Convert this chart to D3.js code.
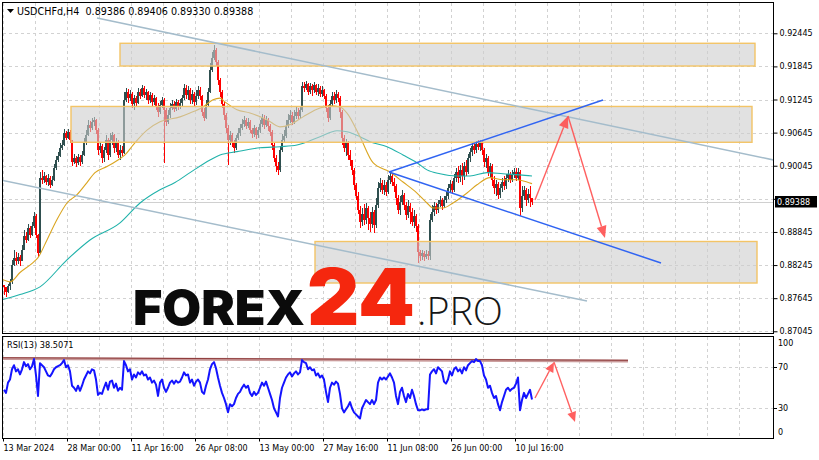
<!DOCTYPE html>
<html><head><meta charset="utf-8">
<script src="https://cdn.jsdelivr.net/npm/d3@7/dist/d3.min.js"></script>
<style>body{margin:0;background:#fff}svg{display:block}</style>
</head><body><svg id="c" width="819" height="460"></svg>
<script>
// ---------- data ----------
const symbolTitle = "USDCHFd,H4  0.89386 0.89406 0.89330 0.89388";
const rsiTitle = "RSI(13) 38.5071";
const timeLabels = ["13 Mar 2024","28 Mar 00:00","11 Apr 16:00","26 Apr 08:00","13 May 00:00","27 May 16:00","11 Jun 08:00","26 Jun 00:00","10 Jul 16:00"];
const timeLabelBars = [0,64,128,192,256,320,384,448,512];
const priceTicks = [0.92445,0.91845,0.91245,0.90645,0.90045,0.89445,0.88845,0.88245,0.87645,0.87045];
const rsiTicks = [100,70,30,0];
const barsPerCandle = 2;
const openFirst = 0.8789;
const closes = [
.8784,.8776,.8787,.8793,.8825,.8838,.8831,.8840,.8831,.8852,
.8878,.8870,.8892,.8879,.8896,.8914,.8879,.8847,.8983,.8979,
.8986,.8975,.8983,.8970,.8979,.9001,.9015,.9022,.9037,.9042,
.9064,.9055,.9066,.9051,.9012,.9019,.9010,.9021,.9012,.9024,
.9046,.9060,.9079,.9073,.9084,.9088,.9069,.9033,.9041,.9019,
.9033,.9051,.9024,.9051,.9060,.9037,.9048,.9024,.9033,.9028,
.9124,.9138,.9127,.9135,.9117,.9127,.9118,.9138,.9131,.9146,
.9133,.9138,.9124,.9133,.9120,.9127,.9113,.9102,.9115,.9124,
.9106,.9084,.9097,.9109,.9117,.9107,.9120,.9111,.9118,.9127,
.9146,.9133,.9142,.9124,.9135,.9120,.9131,.9142,.9131,.9102,
.9091,.9115,.9138,.9178,.9200,.9214,.9192,.9160,.9138,.9117,
.9097,.9073,.9051,.9060,.9048,.9037,.9055,.9064,.9073,.9080,
.9088,.9077,.9084,.9069,.9062,.9073,.9060,.9069,.9080,.9091,
.9079,.9088,.9077,.9066,.9042,.9019,.9004,.8997,.9033,.9051,
.9059,.9077,.9088,.9097,.9084,.9095,.9102,.9095,.9106,.9149,
.9146,.9153,.9138,.9149,.9142,.9151,.9138,.9146,.9135,.9142,
.9131,.9109,.9091,.9117,.9131,.9124,.9135,.9127,.9102,.9055,
.9037,.9046,.9024,.9015,.8997,.8970,.8950,.8925,.8903,.8917,
.8907,.8928,.8910,.8899,.8921,.8898,.8934,.8965,.8974,.8961,
.8970,.8957,.8979,.8986,.8975,.8968,.8946,.8925,.8939,.8952,
.8934,.8916,.8932,.8921,.8903,.8914,.8896,.8849,.8841,.8847,
.8840,.8845,.8841,.8907,.8921,.8932,.8925,.8936,.8943,.8932,
.8943,.8950,.8965,.8972,.8961,.8983,.8993,.8983,.8997,.8986,
.9004,.8993,.9019,.9030,.9041,.9033,.9044,.9039,.9046,.9033,
.9012,.9019,.8993,.9004,.8979,.8965,.8972,.8952,.8965,.8975,
.8968,.8983,.8990,.8979,.8988,.8993,.8983,.8993,.8928,.8950,
.8961,.8943,.8954,.8946,.89388];
const highs = [
.8789,.8785,.8791,.8800,.8834,.8852,.8849,.8847,.8843,.8861,
.8888,.8885,.8899,.8896,.8903,.8921,.8917,.8881,.8993,.8997,
.8993,.8988,.8990,.8986,.8986,.9008,.9022,.9030,.9046,.9051,
.9071,.9068,.9071,.9069,.9050,.9026,.9022,.9026,.9024,.9031,
.9055,.9069,.9088,.9086,.9091,.9093,.9089,.9073,.9048,.9044,
.9039,.9060,.9055,.9064,.9066,.9062,.9055,.9051,.9042,.9041,
.9138,.9146,.9144,.9142,.9138,.9133,.9131,.9146,.9144,.9151,
.9149,.9144,.9140,.9138,.9136,.9133,.9129,.9118,.9122,.9129,
.9127,.9109,.9106,.9118,.9124,.9122,.9126,.9124,.9126,.9133,
.9153,.9151,.9149,.9146,.9142,.9138,.9142,.9149,.9147,.9133,
.9109,.9124,.9146,.9191,.9211,.9223,.9218,.9196,.9164,.9142,
.9120,.9100,.9079,.9068,.9064,.9051,.9060,.9073,.9080,.9089,
.9095,.9091,.9091,.9088,.9073,.9079,.9075,.9075,.9088,.9098,
.9097,.9095,.9091,.9080,.9069,.9046,.9024,.9012,.9041,.9062,
.9069,.9088,.9098,.9106,.9102,.9106,.9111,.9109,.9113,.9156,
.9156,.9158,.9155,.9155,.9153,.9156,.9153,.9153,.9149,.9149,
.9144,.9135,.9115,.9124,.9138,.9138,.9142,.9138,.9131,.9106,
.9060,.9053,.9050,.9033,.9015,.9001,.8974,.8957,.8932,.8928,
.8936,.8937,.8932,.8921,.8930,.8925,.8946,.8975,.8983,.8979,
.8979,.8975,.8988,.8993,.8990,.8983,.8972,.8952,.8950,.8961,
.8955,.8939,.8943,.8937,.8928,.8925,.8917,.8899,.8852,.8852,
.8850,.8852,.8850,.8917,.8934,.8939,.8937,.8943,.8950,.8946,
.8950,.8957,.8972,.8979,.8977,.8990,.9001,.9004,.9006,.9010,
.9012,.9015,.9026,.9037,.9046,.9048,.9050,.9051,.9051,.9050,
.9037,.9026,.9022,.9010,.9008,.8986,.8979,.8975,.8972,.8983,
.8986,.8990,.8997,.8993,.8997,.9001,.9001,.9001,.8997,.8968,
.8968,.8965,.8963,.8968,.89406];
const lows = [
.8771,.8767,.8774,.8780,.8791,.8823,.8825,.8827,.8823,.8831,
.8852,.8865,.8869,.8874,.8878,.8892,.8874,.8840,.8845,.8972,
.8974,.8970,.8968,.8965,.8968,.8977,.8997,.9012,.9021,.9033,
.9041,.9051,.9053,.9046,.9004,.9008,.9003,.9006,.9004,.9008,
.9022,.9042,.9059,.9066,.9069,.9077,.9062,.9024,.9028,.9010,
.9012,.9028,.9015,.9021,.9042,.9028,.9030,.9019,.9015,.9022,
.9026,.9120,.9118,.9122,.9109,.9106,.9111,.9117,.9126,.9129,
.9127,.9124,.9117,.9118,.9113,.9115,.9106,.9093,.9098,.9109,
.9010,.9077,.9080,.9091,.9106,.9102,.9104,.9106,.9107,.9113,
.9124,.9126,.9124,.9117,.9117,.9113,.9115,.9126,.9124,.9095,
.9086,.9089,.9111,.9136,.9174,.9196,.9185,.9151,.9129,.9109,
.9088,.9064,.9006,.9042,.9039,.9028,.9033,.9051,.9059,.9069,
.9075,.9071,.9073,.9064,.9055,.9057,.9053,.9055,.9064,.9075,
.9071,.9075,.9068,.9059,.9033,.9012,.8993,.8988,.8993,.9030,
.9046,.9055,.9073,.9082,.9079,.9080,.9089,.9089,.9091,.9102,
.9138,.9142,.9133,.9135,.9131,.9136,.9133,.9131,.9129,.9129,
.9126,.9102,.9084,.9088,.9111,.9117,.9118,.9120,.9091,.9042,
.9030,.9022,.9015,.9004,.8988,.8961,.8943,.8917,.8892,.8896,
.8898,.8899,.8888,.8885,.8892,.8883,.8892,.8928,.8957,.8954,
.8952,.8950,.8954,.8972,.8968,.8957,.8934,.8917,.8916,.8934,
.8925,.8907,.8910,.8899,.8896,.8892,.8885,.8829,.8831,.8834,
.8832,.8836,.8834,.8834,.8903,.8914,.8917,.8919,.8930,.8925,
.8928,.8937,.8945,.8957,.8954,.8957,.8975,.8974,.8975,.8970,
.8979,.8986,.8990,.9012,.9022,.9026,.9028,.9033,.9031,.9024,
.9003,.9001,.8986,.8983,.8968,.8954,.8950,.8945,.8946,.8957,
.8961,.8963,.8975,.8974,.8975,.8983,.8977,.8979,.8914,.8921,
.8943,.8932,.8937,.8930,.89330];
const rsi13 = [
48,45,55,58,68,72,66,68,63,68,
75,71,73,68,71,78,62,42,74,72,
70,66,62,61,64,68,70,71,72,74,
77,70,72,66,52,50,47,52,47,52,
58,62,66,64,68,67,58,43,45,44,
50,55,48,56,57,50,54,47,50,48,
76,72,66,68,58,63,60,65,63,66,
62,63,58,60,55,57,53,42,55,58,
50,46,50,55,57,54,57,55,56,60,
65,62,63,55,58,52,56,58,55,46,
44,52,58,68,73,75,69,60,52,45,
40,34,26,34,32,34,40,44,46,50,
53,50,52,45,42,46,43,45,50,55,
52,56,50,44,38,30,26,22,40,50,
55,60,63,65,61,64,66,63,65,77,
75,74,68,70,67,68,62,64,60,62,
58,46,36,50,55,53,56,54,44,30,
26,29,32,36,30,26,24,22,20,30,
34,38,36,34,38,34,38,55,60,58,
60,58,61,64,60,55,42,34,46,50,
42,36,44,40,48,42,34,28,28,29,
28,29,29,63,66,68,64,70,68,66,
56,54,58,66,62,68,70,66,68,64,
70,67,72,74,76,75,78,76,76,72,
62,58,50,52,45,40,42,34,28,36,
42,48,50,47,49,50,54,60,28,38,
45,40,44,48,38.5071];
// moving averages: [bar, price]
const maFast = [[0,.8798],[7,.8794],[17,.8811],[30,.8829],[35,.8838],[44,.8870],[54,.8907],[64,.8937],[74,.8952],[84,.8974],[92,.8992],[104,.9003],[115,.9015],[122,.9024],[130,.9042],[144,.9069],[157,.9084],[177,.9093],[187,.9100],[200,.9111],[210,.9124],[217,.9127],[222,.9120],[234,.9106],[247,.9100],[264,.9088],[277,.9075],[287,.9079],[300,.9093],[317,.9109],[327,.9113],[337,.9111],[344,.9100],[357,.9057],[370,.9010],[387,.8993],[400,.8975],[414,.8955],[424,.8937],[430,.8928],[440,.8928],[450,.8937],[464,.8955],[474,.8970],[487,.8983],[500,.8979],[514,.8979],[524,.8975],[529,.8972]];
const maSlow = [[0,.8762],[17,.8771],[37,.8785],[64,.8834],[87,.8870],[117,.8901],[137,.8937],[157,.8961],[172,.8974],[187,.8992],[207,.9015],[217,.9024],[234,.9030],[257,.9037],[277,.9039],[294,.9042],[317,.9057],[334,.9068],[344,.9066],[357,.9057],[367,.9048],[384,.9039],[400,.9024],[414,.9010],[424,.8997],[437,.8990],[454,.8986],[467,.8986],[484,.8992],[500,.8990],[517,.8988],[529,.8986]];
// zones: [barStart, barEnd, priceTop, priceBottom]
const zones = [[117,752,.92264,.91852],[68,749,.91119,.9047],[312,754,.88672,.8792]];
// trend lines: [[bar, price],[bar, price]]
const grayLines = [[[94,.92722],[774,.90136]],[[-3,.89787],[584,.87594]]];
const channelLines = [[[386,.89932],[600,.91236]],[[386,.89932],[658,.88283]]];
const forecastPrice = [[532,.89424],[565,.90946],[602,.88736]];
const forecastRsi = [[532,40],[551,75],[572,16.6]];
const rsiLevel = [[-3,78.5],[625,76]];

// ---------- drawing ----------
const svg = d3.select("#c");
const FONT = "'DejaVu Sans', Verdana, sans-serif";
const xS = d3.scaleLinear().domain([0,770]).range([3,773]);
const yP = d3.scaleLinear().domain([0.87014,0.93012]).range([333,2]);
const yR = d3.scaleLinear().domain([0,100]).range([439,336.5]);
const lastClose = closes[closes.length-1];

const defs = svg.append("defs");
defs.append("clipPath").attr("id","cm").append("rect").attr("x",3).attr("y",3).attr("width",770).attr("height",330);
defs.append("clipPath").attr("id","cr").append("rect").attr("x",3).attr("y",337).attr("width",770).attr("height",101);

// grid
const grid = svg.append("g").attr("stroke","#d2d2d2").attr("stroke-dasharray","3,3").attr("shape-rendering","crispEdges");
const gridBars = d3.range(0, 740, 32);
gridBars.forEach(b=>{
  grid.append("line").attr("x1",xS(b)+0.5).attr("x2",xS(b)+0.5).attr("y1",3).attr("y2",333);
  grid.append("line").attr("x1",xS(b)+0.5).attr("x2",xS(b)+0.5).attr("y1",337).attr("y2",438);
});
priceTicks.forEach(p=>grid.append("line").attr("x1",3).attr("x2",773).attr("y1",Math.round(yP(p))+0.5).attr("y2",Math.round(yP(p))+0.5));
[70,30].forEach(v=>grid.append("line").attr("x1",3).attr("x2",773).attr("y1",Math.round(yR(v))+0.5).attr("y2",Math.round(yR(v))+0.5));

const main = svg.append("g").attr("clip-path","url(#cm)");
main.append("line").attr("x1",3).attr("x2",773).attr("y1",Math.round(yP(lastClose))+0.5).attr("y2",Math.round(yP(lastClose))+0.5)
  .attr("stroke","#d0d0d0").attr("shape-rendering","crispEdges");

// candles
const candles = closes.map((c,j)=>{
  const o = j ? closes[j-1] : openFirst;
  return {bar:j*barsPerCandle, o, c, h:Math.max(highs[j],o,c), l:Math.min(lows[j],o,c)};
});
const cg = main.append("g").attr("shape-rendering","crispEdges");
cg.selectAll("rect.w").data(candles).join("rect").attr("class","w")
  .attr("x",d=>xS(d.bar)+0.5).attr("width",1)
  .attr("y",d=>yP(d.h)).attr("height",d=>Math.max(1,yP(d.l)-yP(d.h)))
  .attr("fill",d=>d.c>=d.o?"#2f4f4f":"#ff0000");
cg.selectAll("rect.b").data(candles).join("rect").attr("class","b")
  .attr("x",d=>xS(d.bar)).attr("width",2)
  .attr("y",d=>yP(Math.max(d.o,d.c))).attr("height",d=>Math.max(1,Math.abs(yP(d.o)-yP(d.c))))
  .attr("fill",d=>d.c>=d.o?"#2f4f4f":"#ff0000");

// moving averages
const maLine = d3.line().x(d=>xS(d[0])).y(d=>yP(d[1])).curve(d3.curveMonotoneX);
main.append("path").attr("d",maLine(maSlow)).attr("fill","none").attr("stroke","#20b2aa").attr("stroke-width",1.1);
main.append("path").attr("d",maLine(maFast)).attr("fill","none").attr("stroke","#daa520").attr("stroke-width",1.1);

// zones
zones.forEach(z=>{
  main.append("rect").attr("x",xS(z[0])).attr("y",yP(z[2])).attr("width",xS(z[1])-xS(z[0])).attr("height",yP(z[3])-yP(z[2]))
    .attr("fill","#cdcdcd").attr("fill-opacity",0.6).attr("stroke","#f3c466").attr("stroke-width",1.4);
});

// trend lines
const pLine = d3.line().x(d=>xS(d[0])).y(d=>yP(d[1]));
grayLines.forEach(l=>main.append("path").attr("d",pLine(l)).attr("stroke","#a4bccb").attr("stroke-width",1.5).attr("fill","none"));
channelLines.forEach(l=>main.append("path").attr("d",pLine(l)).attr("stroke","#3064f2").attr("stroke-width",1.5).attr("fill","none"));

function arrow(g, x1,y1,x2,y2,len,hw){
  const dx=x2-x1, dy=y2-y1, L=Math.hypot(dx,dy), ux=dx/L, uy=dy/L;
  const bx=x2-ux*len, by=y2-uy*len;
  g.append("line").attr("x1",x1).attr("y1",y1).attr("x2",bx).attr("y2",by).attr("stroke","#ff4f4f").attr("stroke-width",1.4).attr("stroke-opacity",0.9);
  g.append("path").attr("d",`M${x2},${y2}L${bx-uy*hw},${by+ux*hw}L${bx+uy*hw},${by-ux*hw}Z`).attr("fill","#ff4f4f").attr("fill-opacity",0.9);
}
const fp = forecastPrice.map(d=>[xS(d[0]),yP(d[1])]);
arrow(svg, fp[0][0],fp[0][1],fp[1][0],fp[1][1],12,5);
arrow(svg, fp[1][0],fp[1][1],fp[2][0],fp[2][1],12,5);

// RSI panel
const rp = svg.append("g").attr("clip-path","url(#cr)");
const rLevel = d3.line().x(d=>xS(d[0])).y(d=>yR(d[1]));
rp.append("path").attr("d",rLevel(rsiLevel)).attr("stroke","#c99a9a").attr("stroke-width",3).attr("fill","none");
rp.append("path").attr("d",rLevel(rsiLevel)).attr("stroke","#8e3b3b").attr("stroke-width",1).attr("fill","none").attr("transform","translate(0,-0.8)");
const rsiLine = d3.line().x((v,j)=>xS(j*barsPerCandle+1)).y(v=>yR(v));
rp.append("path").attr("d",rsiLine(rsi13)).attr("fill","none").attr("stroke","#1414ff").attr("stroke-width",2).attr("stroke-linejoin","round");
const fr = forecastRsi.map(d=>[xS(d[0]),yR(d[1])]);
arrow(svg, fr[0][0],fr[0][1],fr[1][0],fr[1][1],10,4.5);
arrow(svg, fr[1][0],fr[1][1],fr[2][0],fr[2][1],10,4.5);

// logo
const logo = svg.append("g");
logo.append("text").attr("x",133).attr("y",325).text("FOREX").attr("font-family","Inter, 'Open Sans', Roboto, sans-serif")
  .attr("font-weight",900).attr("font-size",48).attr("fill","#0b0b0b").attr("textLength",172).attr("lengthAdjust","spacingAndGlyphs");
logo.append("text").attr("x",307).attr("y",325).text("24").attr("font-family","Inter, 'Open Sans', Roboto, sans-serif")
  .attr("font-weight",900).attr("font-size",78).attr("fill","#f5270e").attr("textLength",108).attr("lengthAdjust","spacingAndGlyphs");
logo.append("text").attr("x",417).attr("y",325).text(".PRO").attr("font-family","'Open Sans', Lato, Inter, sans-serif")
  .attr("font-weight",300).attr("font-size",38).attr("fill","#161616").attr("textLength",86).attr("lengthAdjust","spacingAndGlyphs");

// borders
svg.append("rect").attr("x",2.5).attr("y",2.5).attr("width",771).attr("height",331).attr("fill","none").attr("stroke","#000");
svg.append("rect").attr("x",2.5).attr("y",336.5).attr("width",771).attr("height",102).attr("fill","none").attr("stroke","#000");

// price axis (the tick label under the current-price tag is hidden, as in the original)
const yl = yP(lastClose);
const pa = svg.append("g").attr("transform","translate(773.5,0)")
  .call(d3.axisRight(yP).tickValues(priceTicks)
    .tickFormat(p=>Math.abs(yP(p)-yl)<8 ? "" : d3.format(".5f")(p)).tickSize(4).tickPadding(2));
pa.select(".domain").remove();
pa.selectAll("text").attr("font-family",FONT).attr("font-size",8).attr("fill","#000");
pa.selectAll("line").attr("stroke","#000");
// current price tag
svg.append("rect").attr("x",775).attr("y",yl-6).attr("width",42).attr("height",11.5).attr("fill","#000");
svg.append("text").attr("x",777).attr("y",yl+3).text(d3.format(".5f")(lastClose)).attr("font-family",FONT).attr("font-size",8).attr("fill","#fff");

// RSI axis
rsiTicks.forEach(v=>{
  const yy = Math.min(Math.max(yR(v),343.5),432);
  svg.append("text").attr("x",778).attr("y",yy).attr("dy","0.35em").text(v).attr("font-family",FONT).attr("font-size",8).attr("fill","#000");
  if(v>0 && v<100) svg.append("line").attr("x1",773).attr("x2",777).attr("y1",Math.round(yR(v))+0.5).attr("y2",Math.round(yR(v))+0.5).attr("stroke","#000");
});

// time axis
const ta = svg.append("g").attr("transform","translate(0,438.5)")
  .call(d3.axisBottom(xS).tickValues(timeLabelBars).tickFormat((d,i)=>timeLabels[i]).tickSize(3).tickPadding(4));
ta.select(".domain").remove();
ta.selectAll("text").attr("font-family",FONT).attr("font-size",8).attr("fill","#000").attr("text-anchor","start").attr("x",0);
ta.selectAll("line").attr("stroke","#000");

// titles
svg.append("path").attr("d","M7,9L14,9L10.5,13Z").attr("fill","#000");
svg.append("text").attr("x",17).attr("y",14.5).text(symbolTitle).attr("font-family",FONT).attr("font-size",9.6).attr("fill","#000").style("white-space","pre");
svg.append("text").attr("x",7).attr("y",348).text(rsiTitle).attr("font-family",FONT).attr("font-size",8.2).attr("fill","#000");
</script></body></html>
